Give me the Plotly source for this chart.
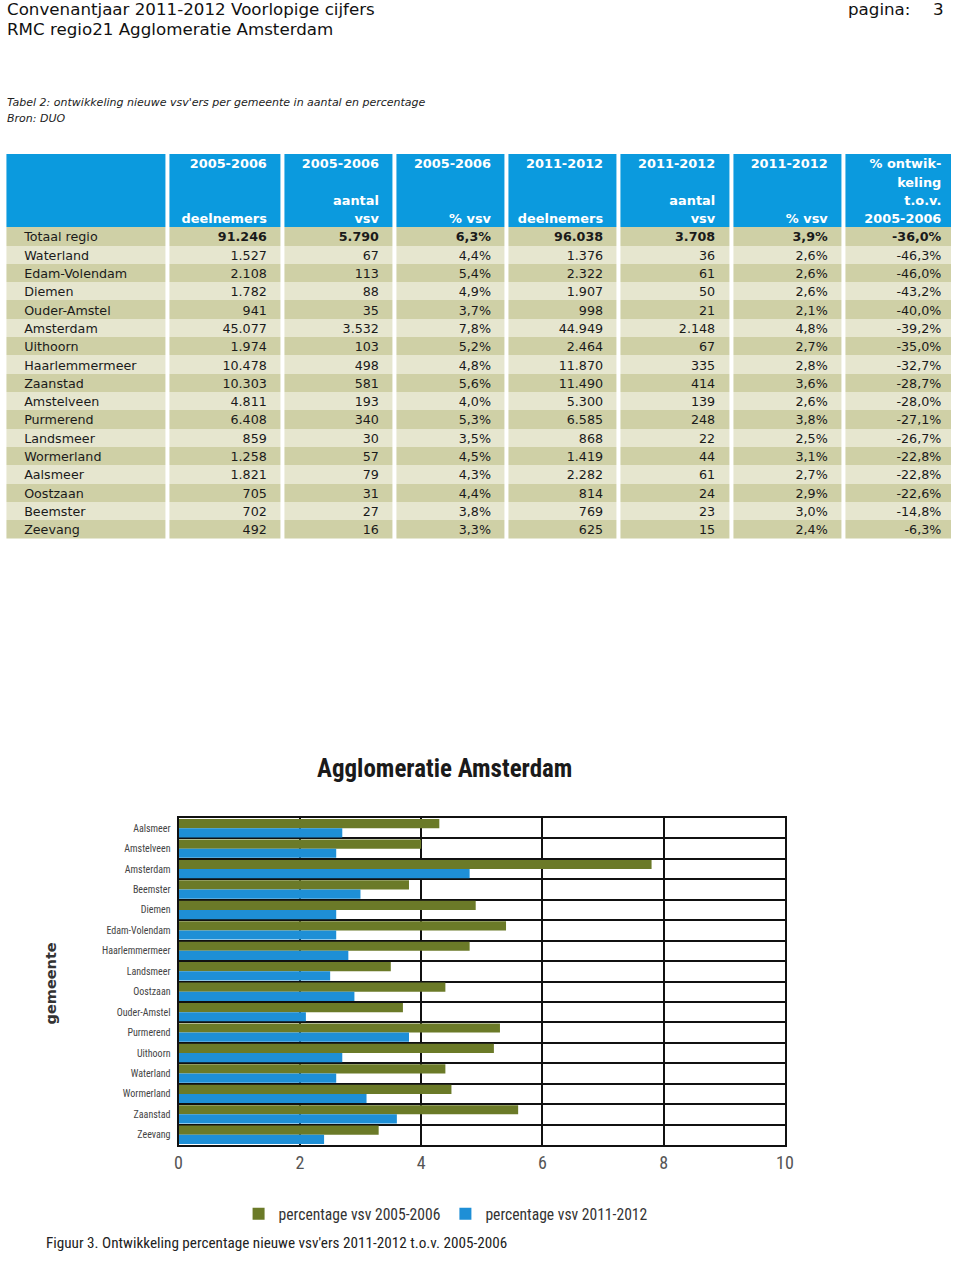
import plotly.graph_objects as go

# ---------------- table data ----------------
kop_regels = [  # 4 header lines per column
    ["", "", "", ""],
    ["2005-2006", "", "", "deelnemers"],
    ["2005-2006", "", "aantal", "vsv"],
    ["2005-2006", "", "", "% vsv"],
    ["2011-2012", "", "", "deelnemers"],
    ["2011-2012", "", "aantal", "vsv"],
    ["2011-2012", "", "", "% vsv"],
    ["% ontwik-", "keling", "t.o.v.", "2005-2006"],
]
gemeenten_tabel = ["Totaal regio", "Waterland", "Edam-Volendam", "Diemen", "Ouder-Amstel",
                   "Amsterdam", "Uithoorn", "Haarlemmermeer", "Zaanstad", "Amstelveen",
                   "Purmerend", "Landsmeer", "Wormerland", "Aalsmeer", "Oostzaan",
                   "Beemster", "Zeevang"]
deelnemers_0506 = ["91.246", "1.527", "2.108", "1.782", "941", "45.077", "1.974", "10.478",
                   "10.303", "4.811", "6.408", "859", "1.258", "1.821", "705", "702", "492"]
vsv_0506 = ["5.790", "67", "113", "88", "35", "3.532", "103", "498", "581", "193", "340",
            "30", "57", "79", "31", "27", "16"]
pct_0506 = ["6,3%", "4,4%", "5,4%", "4,9%", "3,7%", "7,8%", "5,2%", "4,8%", "5,6%", "4,0%",
            "5,3%", "3,5%", "4,5%", "4,3%", "4,4%", "3,8%", "3,3%"]
deelnemers_1112 = ["96.038", "1.376", "2.322", "1.907", "998", "44.949", "2.464", "11.870",
                   "11.490", "5.300", "6.585", "868", "1.419", "2.282", "814", "769", "625"]
vsv_1112 = ["3.708", "36", "61", "50", "21", "2.148", "67", "335", "414", "139", "248",
            "22", "44", "61", "24", "23", "15"]
pct_1112 = ["3,9%", "2,6%", "2,6%", "2,6%", "2,1%", "4,8%", "2,7%", "2,8%", "3,6%", "2,6%",
            "3,8%", "2,5%", "3,1%", "2,7%", "2,9%", "3,0%", "2,4%"]
ontwikkeling = ["-36,0%", "-46,3%", "-46,0%", "-43,2%", "-40,0%", "-39,2%", "-35,0%",
                "-32,7%", "-28,7%", "-28,0%", "-27,1%", "-26,7%", "-22,8%", "-22,8%",
                "-22,6%", "-14,8%", "-6,3%"]

# ---------------- chart data ----------------
gemeenten_grafiek = ["Aalsmeer", "Amstelveen", "Amsterdam", "Beemster", "Diemen",
                     "Edam-Volendam", "Haarlemmermeer", "Landsmeer", "Oostzaan",
                     "Ouder-Amstel", "Purmerend", "Uithoorn", "Waterland", "Wormerland",
                     "Zaanstad", "Zeevang"]
perc_vsv_0506 = [4.3, 4.0, 7.8, 3.8, 4.9, 5.4, 4.8, 3.5, 4.4, 3.7, 5.3, 5.2, 4.4, 4.5, 5.6, 3.3]
perc_vsv_1112 = [2.7, 2.6, 4.8, 3.0, 2.6, 2.6, 2.8, 2.5, 2.9, 2.1, 3.8, 2.7, 2.6, 3.1, 3.6, 2.4]
x_ticks = [0, 2, 4, 6, 8, 10]

# ---------------- layout / styling ----------------
W, H = 960, 1266
HEAD_BLUE = "#0b9ade"
ROW_DARK = "#cfd0a6"
ROW_LIGHT = "#e6e6cf"
GREEN = "#6b7a28"
BLUE = "#1e8fd6"
COND = "Roboto Condensed, Liberation Sans Narrow, Liberation Sans"
# horizontal calibration of the renderer (observed: screen = 4.6 + 0.9857 * design)
X_OFF, X_SCALE = 4.6, 0.9857

def sx(px):  # desired screen x (px) -> design x (px)
    return (px - X_OFF) / X_SCALE

def pxx(px):  # desired screen x -> paper x
    return sx(px) / W

def py(px):  # pixel from top -> paper y
    return 1 - px / H

kolom_randen = [sx(v) for v in [5, 168, 283, 395, 507, 619, 731, 843.5, 957]]
TABLE_TOP, TABLE_BOT = 154, 538.5
TEXT_PAD_R, TEXT_PAD_L = 16, 20
TEXT_DY = 0.1

fig = go.Figure()

# ---- table: cell fills as a heatmap on its own axes (rows in row units) ----
n_kop = 4
kolommen = [gemeenten_tabel, deelnemers_0506, vsv_0506, pct_0506,
            deelnemers_1112, vsv_1112, pct_1112, ontwikkeling]
n = len(gemeenten_tabel)
n_rijen = n_kop + n
z = [[0] * len(kolommen) for _ in range(n_kop)] + \
    [[1 if i % 2 == 0 else 2] * len(kolommen) for i in range(n)]
fig.add_trace(go.Heatmap(
    x=kolom_randen, y=list(range(n_rijen + 1)), z=z, xgap=4, ygap=0,
    zmin=0, zmax=2, showscale=False, hoverinfo="skip",
    colorscale=[[0, HEAD_BLUE], [0.5, ROW_DARK], [1, ROW_LIGHT]],
    xaxis="x2", yaxis="y2"))

for k, vals in enumerate(kolommen):
    links = k == 0
    xa = kolom_randen[0] + TEXT_PAD_L if links else kolom_randen[k + 1] - TEXT_PAD_R
    pos = "middle right" if links else "middle left"
    kop = kop_regels[k]
    fig.add_trace(go.Scatter(
        x=[xa] * n_kop, y=[j + 0.5 + TEXT_DY for j in range(n_kop)],
        text=["<b>" + t + "</b>" if t else "" for t in kop], mode="text",
        textposition=pos, hoverinfo="skip", showlegend=False,
        textfont=dict(family="DejaVu Sans", size=12.9, color="white"),
        xaxis="x2", yaxis="y2"))
    fig.add_trace(go.Scatter(
        x=[xa] * n, y=[n_kop + i + 0.5 + TEXT_DY for i in range(n)],
        text=["<b>" + v + "</b>" if (i == 0 and not links) else v
              for i, v in enumerate(vals)],
        mode="text", textposition=pos, hoverinfo="skip", showlegend=False,
        textfont=dict(family="DejaVu Sans", size=12.7, color="#1a1a1a"),
        xaxis="x2", yaxis="y2"))

# ---- bar chart ----
fig.add_trace(go.Bar(y=gemeenten_grafiek, x=perc_vsv_0506, orientation="h",
                     name="percentage vsv 2005-2006", marker_color=GREEN,
                     marker_line_width=0))
fig.add_trace(go.Bar(y=gemeenten_grafiek, x=perc_vsv_1112, orientation="h",
                     name="percentage vsv 2011-2012", marker_color=BLUE,
                     marker_line_width=0))

fig.update_layout(
    width=W, height=H, autosize=False, margin=dict(l=0, r=0, t=0, b=0, pad=0),
    paper_bgcolor="white", plot_bgcolor="white",
    barmode="group", bargap=0.1, bargroupgap=0.0,
    font=dict(family="Liberation Sans", color="#222"),
    xaxis=dict(domain=[pxx(179), pxx(785)], anchor="y", range=[0, 10],
               tickvals=x_ticks, showgrid=True, gridcolor="#111", gridwidth=1.5,
               showline=True, linecolor="#111", linewidth=2, mirror=True,
               zeroline=False, ticks="",
               tickfont=dict(family=COND, size=18, color="#555")),
    yaxis=dict(domain=[py(1145), py(818)], anchor="x", autorange="reversed",
               type="category", tickson="boundaries", showgrid=True,
               gridcolor="#111", gridwidth=2, showline=True, linecolor="#111",
               linewidth=2, mirror=True, ticks="", ticklabelstandoff=4,
               tickfont=dict(family=COND, size=10, color="#444")),
    xaxis2=dict(domain=[0, 1], anchor="y2", range=[0, W], visible=False, fixedrange=True),
    yaxis2=dict(domain=[py(TABLE_BOT), py(TABLE_TOP)], anchor="x2",
                range=[n_rijen, 0], visible=False, fixedrange=True),
    legend=dict(orientation="h", x=pxx(239), y=py(1197), xanchor="left", yanchor="top",
                font=dict(family=COND, size=15.6, color="#333"),
                bgcolor="rgba(0,0,0,0)", itemwidth=30),
    showlegend=True,
)

ann = []
def txt(x, y, s, size, family="DejaVu Sans", color="#111", xanchor="left",
        bold=False, italic=False, angle=0):
    if bold:
        s = "<b>" + s + "</b>"
    if italic:
        s = "<i>" + s + "</i>"
    ann.append(dict(x=pxx(x), y=py(y), xref="paper", yref="paper", text=s,
                    showarrow=False, xanchor=xanchor, yanchor="middle",
                    font=dict(family=family, size=size, color=color), textangle=angle))

txt(6, 9, "Convenantjaar 2011-2012 Voorlopige cijfers", 16.7)
txt(6, 29, "RMC regio21 Agglomeratie Amsterdam", 16.7)
txt(846, 9, "pagina:", 16.7)
txt(946, 9, "3", 16.7, xanchor="right")
txt(6, 102, "Tabel 2: ontwikkeling nieuwe vsv'ers per gemeente in aantal en percentage", 11,
    italic=True, color="#222")
txt(6, 119, "Bron: DUO", 11, italic=True, color="#222")
txt(445, 768, "Agglomeratie Amsterdam", 25, family=COND, xanchor="center", bold=True,
    color="#1a1a1a")
txt(52, 983, "gemeente", 14.5, xanchor="center", bold=True, color="#333", angle=-90)
txt(45, 1243, "Figuur 3. Ontwikkeling percentage nieuwe vsv'ers 2011-2012 t.o.v. 2005-2006",
    15.2, family=COND, color="#222")
fig.update_layout(annotations=ann)

fig.write_html(
    "out.html",
    config={"displayModeBar": False, "responsive": False},
    post_script="document.body.style.margin='0px';document.body.style.overflow='hidden';",
)
